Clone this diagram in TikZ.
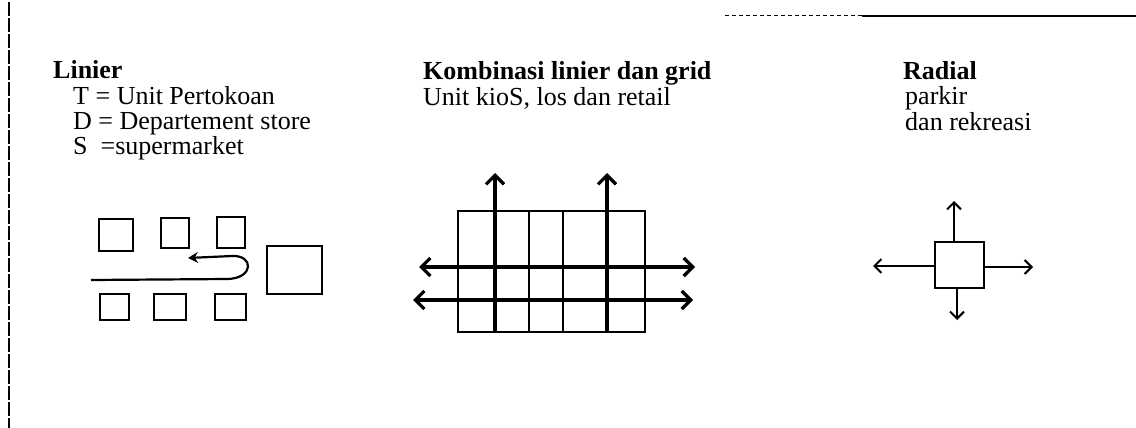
\documentclass[tikz,border=0pt]{standalone}
\usepackage{fontspec}
\setmainfont{Liberation Serif}
\usetikzlibrary{arrows.meta}
\begin{document}
\begin{tikzpicture}[x=1pt,y=-1pt,
  gb/.tip={Straight Barb[length=9pt,width=18pt,line width=3.2pt]},
  sb/.tip={Straight Barb[length=7pt,width=14pt,line width=2pt]},
  txt/.style={anchor=base west,inner sep=0pt,text height=18pt,text depth=5pt,font=\fontsize{26}{26}\selectfont},
  ttl/.style={txt,font=\fontsize{26}{26}\selectfont\bfseries},
  box/.style={draw,line width=2.2pt,inner sep=0pt,minimum width=#1},
  thin/.style={line width=1.6pt},
  thick/.style={line width=3.8pt},
]
\useasboundingbox (0,0) rectangle (1136,428);
% frame remnants
\coordinate (fl1) at (9,2); \coordinate (fl2) at (9,428);
\draw[line width=1.2pt,dash pattern=on 14pt off 2pt] (fl1) -- (fl2);
\coordinate (ft1) at (725,16); \coordinate (ft2) at (862,16); \coordinate (ft3) at (1136,16);
\draw[line width=1pt,dash pattern=on 4pt off 3pt] (ft1) -- (ft2);
\draw[line width=1.6pt] (ft2) -- (ft3);

% texts
\node[ttl] (t1) at (53,79) {Linier};
\node[txt] (t2) at (73,104) {T = Unit Pertokoan};
\node[txt] (t3) at (73,129) {D = Departement store};
\node[txt] (t4) at (73,154) {S\ \ =supermarket};
\node[ttl] (k1) at (423,80) {Kombinasi linier dan grid};
\node[txt] (k2) at (423,106) {Unit kioS, los dan retail};
\node[ttl] (r1) at (903,80) {Radial};
\node[txt] (r2) at (905,105) {parkir};
\node[txt] (r3) at (905,130) {dan rekreasi};

% Linier layout
\node[box=34pt,minimum height=32pt] (a1) at (116,235) {};
\node[box=28pt,minimum height=30pt] (a2) at (175,233) {};
\node[box=28pt,minimum height=31pt] (a3) at (231,232.5) {};
\node[box=29pt,minimum height=26pt] (b1) at (114.5,307) {};
\node[box=32pt,minimum height=26pt] (b2) at (170,307) {};
\node[box=31pt,minimum height=26pt] (b3) at (230.5,307) {};
\node[box=55pt,minimum height=48pt] (dd) at (294.5,270) {};
\coordinate (p0) at (91,280);
\coordinate (p1) at (228,279);
\coordinate (p2) at (232,256);
\coordinate (p3) at (188,258);
\draw[line width=2.2pt,-{Stealth[length=10pt,width=11pt]}] (p0) -- (p1)
  .. controls (254,278) and (254,255) .. (p2) -- (p3);

% Grid layout
\coordinate (g1) at (458,211); \coordinate (g2) at (645,332);
\draw[thin] (g1) rectangle (g2);
\coordinate (v3a) at (529,211); \coordinate (v3b) at (529,332);
\coordinate (v4a) at (563,211); \coordinate (v4b) at (563,332);
\draw[thin] (v3a) -- (v3b);
\draw[thin] (v4a) -- (v4b);
\coordinate (u1a) at (495,332); \coordinate (u1b) at (495,173);
\coordinate (u2a) at (607,332); \coordinate (u2b) at (607,173);
\draw[thick,-gb] (u1a) -- (u1b);
\draw[thick,-gb] (u2a) -- (u2b);
\coordinate (h1a) at (419,267); \coordinate (h1b) at (695,267);
\coordinate (h2a) at (413,300); \coordinate (h2b) at (693,300);
\draw[thick,gb-gb] (h1a) -- (h1b);
\draw[thick,gb-gb] (h2a) -- (h2b);

% Radial layout
\node[box=49pt,minimum height=46pt] (rr) at (959.5,265) {};
\coordinate (ru) at (954,201);
\coordinate (rl) at (873,266);
\coordinate (rg) at (1033,267);
\coordinate (rd) at (957,320);
\draw[line width=2pt,-sb] (rr.north -| ru) -- (ru);
\draw[line width=2pt,-sb] (rr.west |- rl) -- (rl);
\draw[line width=2pt,-sb] (rr.east |- rg) -- (rg);
\draw[line width=2pt,-sb] (rr.south -| rd) -- (rd);
\end{tikzpicture}
\end{document}
